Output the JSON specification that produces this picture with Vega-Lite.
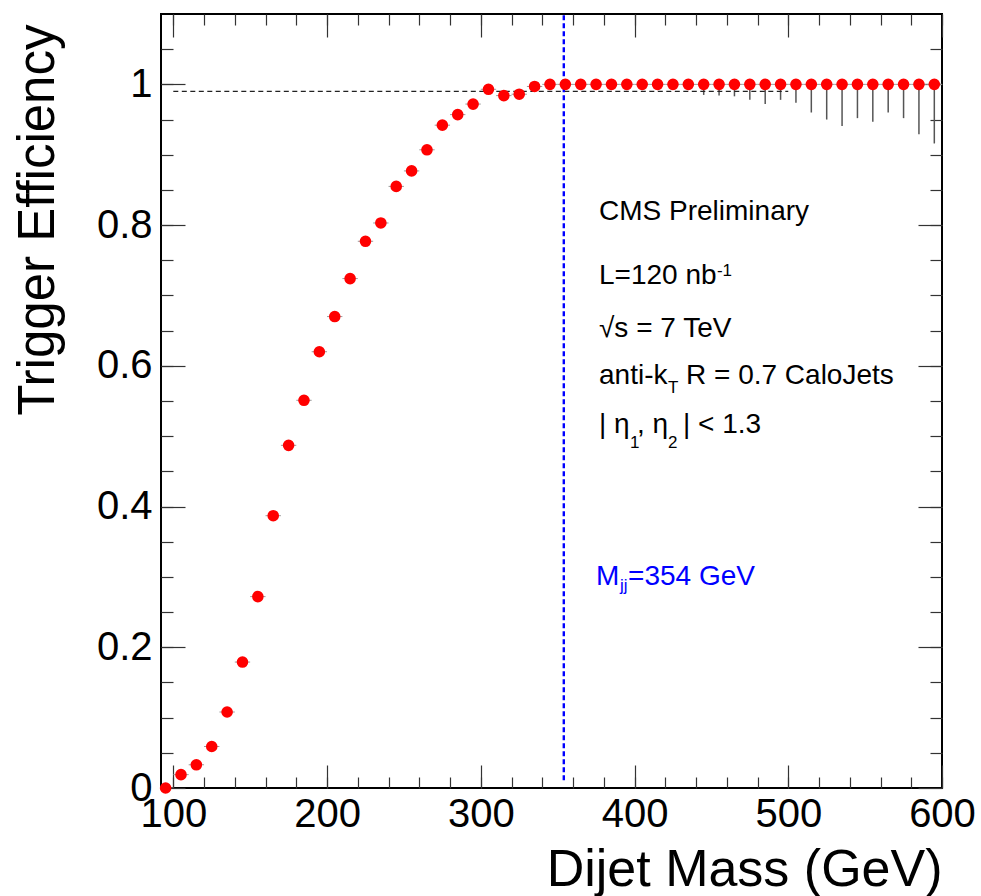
{
  "$schema": "https://vega.github.io/schema/vega-lite/v6.json",
  "width": 781,
  "height": 774,
  "autosize": {"type": "none"},
  "padding": {"left": 161, "top": 14, "right": 39, "bottom": 108},
  "background": "white",
  "config": {
    "font": "Liberation Sans",
    "view": {"stroke": "black", "strokeWidth": 2},
    "axis": {
      "grid": false,
      "domain": false,
      "tickColor": "#333333",
      "tickWidth": 1.2,
      "labelFont": "Liberation Sans",
      "titleFont": "Liberation Sans",
      "labelColor": "black",
      "titleColor": "black",
      "titleFontWeight": "normal"
    }
  },
  "datasets": {
    "pts": [
      {"m": 95, "m0": 90, "m1": 100, "eff": 0.0, "effLo": 0.0},
      {"m": 105, "m0": 100, "m1": 110, "eff": 0.019, "effLo": 0.019},
      {"m": 115, "m0": 110, "m1": 120, "eff": 0.033, "effLo": 0.033},
      {"m": 125, "m0": 120, "m1": 130, "eff": 0.059, "effLo": 0.059},
      {"m": 135, "m0": 130, "m1": 140, "eff": 0.108, "effLo": 0.108},
      {"m": 145, "m0": 140, "m1": 150, "eff": 0.179, "effLo": 0.179},
      {"m": 155, "m0": 150, "m1": 160, "eff": 0.272, "effLo": 0.272},
      {"m": 165, "m0": 160, "m1": 170, "eff": 0.387, "effLo": 0.387},
      {"m": 175, "m0": 170, "m1": 180, "eff": 0.487, "effLo": 0.487},
      {"m": 185, "m0": 180, "m1": 190, "eff": 0.551, "effLo": 0.551},
      {"m": 195, "m0": 190, "m1": 200, "eff": 0.62, "effLo": 0.62},
      {"m": 205, "m0": 200, "m1": 210, "eff": 0.67, "effLo": 0.67},
      {"m": 215, "m0": 210, "m1": 220, "eff": 0.724, "effLo": 0.724},
      {"m": 225, "m0": 220, "m1": 230, "eff": 0.777, "effLo": 0.777},
      {"m": 235, "m0": 230, "m1": 240, "eff": 0.803, "effLo": 0.803},
      {"m": 245, "m0": 240, "m1": 250, "eff": 0.855, "effLo": 0.855},
      {"m": 255, "m0": 250, "m1": 260, "eff": 0.877, "effLo": 0.877},
      {"m": 265, "m0": 260, "m1": 270, "eff": 0.907, "effLo": 0.907},
      {"m": 275, "m0": 270, "m1": 280, "eff": 0.942, "effLo": 0.942},
      {"m": 285, "m0": 280, "m1": 290, "eff": 0.957, "effLo": 0.957},
      {"m": 295, "m0": 290, "m1": 300, "eff": 0.972, "effLo": 0.972},
      {"m": 305, "m0": 300, "m1": 310, "eff": 0.993, "effLo": 0.993},
      {"m": 315, "m0": 310, "m1": 320, "eff": 0.984, "effLo": 0.984},
      {"m": 325, "m0": 320, "m1": 330, "eff": 0.986, "effLo": 0.986},
      {"m": 335, "m0": 330, "m1": 340, "eff": 0.997, "effLo": 0.997},
      {"m": 345, "m0": 340, "m1": 350, "eff": 1.0, "effLo": 1.0},
      {"m": 355, "m0": 350, "m1": 360, "eff": 1.0, "effLo": 1.0},
      {"m": 365, "m0": 360, "m1": 370, "eff": 1.0, "effLo": 1.0},
      {"m": 375, "m0": 370, "m1": 380, "eff": 1.0, "effLo": 1.0},
      {"m": 385, "m0": 380, "m1": 390, "eff": 1.0, "effLo": 1.0},
      {"m": 395, "m0": 390, "m1": 400, "eff": 1.0, "effLo": 1.0},
      {"m": 405, "m0": 400, "m1": 410, "eff": 1.0, "effLo": 1.0},
      {"m": 415, "m0": 410, "m1": 420, "eff": 1.0, "effLo": 1.0},
      {"m": 425, "m0": 420, "m1": 430, "eff": 1.0, "effLo": 1.0},
      {"m": 435, "m0": 430, "m1": 440, "eff": 1.0, "effLo": 1.0},
      {"m": 445, "m0": 440, "m1": 450, "eff": 1.0, "effLo": 0.985},
      {"m": 455, "m0": 450, "m1": 460, "eff": 1.0, "effLo": 0.984},
      {"m": 465, "m0": 460, "m1": 470, "eff": 1.0, "effLo": 0.983},
      {"m": 475, "m0": 470, "m1": 480, "eff": 1.0, "effLo": 0.978},
      {"m": 485, "m0": 480, "m1": 490, "eff": 1.0, "effLo": 0.972},
      {"m": 495, "m0": 490, "m1": 500, "eff": 1.0, "effLo": 0.978},
      {"m": 505, "m0": 500, "m1": 510, "eff": 1.0, "effLo": 0.974},
      {"m": 515, "m0": 510, "m1": 520, "eff": 1.0, "effLo": 0.96},
      {"m": 525, "m0": 520, "m1": 530, "eff": 1.0, "effLo": 0.95},
      {"m": 535, "m0": 530, "m1": 540, "eff": 1.0, "effLo": 0.941},
      {"m": 545, "m0": 540, "m1": 550, "eff": 1.0, "effLo": 0.952},
      {"m": 555, "m0": 550, "m1": 560, "eff": 1.0, "effLo": 0.947},
      {"m": 565, "m0": 560, "m1": 570, "eff": 1.0, "effLo": 0.96},
      {"m": 575, "m0": 570, "m1": 580, "eff": 1.0, "effLo": 0.952},
      {"m": 585, "m0": 580, "m1": 590, "eff": 1.0, "effLo": 0.929},
      {"m": 595, "m0": 590, "m1": 600, "eff": 1.0, "effLo": 0.916}
    ],
    "plateau": [{"from": 100, "to": 500, "level": 0.99}],
    "threshold": [{"mjj": 354, "lo": 0.011, "hi": 1.1}],
    "legendText": [
      {"tx": 376.9, "ty": 0.807, "label": "CMS Preliminary"},
      {"tx": 376.9, "ty": 0.716, "label": "L=120 nb"},
      {"tx": 376.9, "ty": 0.641, "label": "√s = 7 TeV"},
      {"tx": 376.9, "ty": 0.574, "label": "anti-k"},
      {"tx": 433.5, "ty": 0.574, "label": "R = 0.7 CaloJets"},
      {"tx": 376.9, "ty": 0.5045, "label": "| η"},
      {"tx": 401.6, "ty": 0.5045, "label": ", η"},
      {"tx": 431.5, "ty": 0.5045, "label": "| < 1.3"}
    ],
    "legendScript": [
      {"tx": 453.6, "ty": 0.727, "label": "-1"},
      {"tx": 421.8, "ty": 0.5614, "label": "T"},
      {"tx": 397.1, "ty": 0.4832, "label": "1"},
      {"tx": 421.8, "ty": 0.4832, "label": "2"}
    ],
    "mjjText": [
      {"tx": 375.0, "ty": 0.2885, "label": "M"},
      {"tx": 395.8, "ty": 0.2885, "label": "=354 GeV"}
    ],
    "mjjScript": [
      {"tx": 390.6, "ty": 0.28, "label": "jj"}
    ]
  },
  "resolve": {"axis": {"x": "independent", "y": "independent"}},
  "layer": [
    {
      "data": {"name": "pts"},
      "mark": {"type": "rule", "color": "#9a9a9a", "strokeWidth": 1, "clip": true},
      "encoding": {
        "x": {
          "field": "m0", "type": "quantitative",
          "scale": {"domain": [92, 600], "nice": false, "zero": false},
          "axis": {"orient": "bottom", "values": [100,120,140,160,180,200,220,240,260,280,300,320,340,360,380,400,420,440,460,480,500,520,540,560,580,600], "tickSize": -11, "labels": false, "title": null}
        },
        "x2": {"field": "m1"},
        "y": {
          "field": "eff", "type": "quantitative",
          "scale": {"domain": [0, 1.1], "nice": false, "zero": false},
          "axis": {"orient": "left", "values": [0.05,0.1,0.15,0.2,0.25,0.3,0.35,0.4,0.45,0.5,0.55,0.6,0.65,0.7,0.75,0.8,0.85,0.9,0.95,1.0,1.05], "tickSize": -12, "labels": false, "title": null}
        }
      }
    },
    {
      "data": {"name": "pts"},
      "mark": {"type": "rule", "color": "#555555", "strokeWidth": 1.5},
      "encoding": {
        "x": {
          "field": "m", "type": "quantitative",
          "scale": {"domain": [92, 600], "nice": false, "zero": false},
          "axis": {"orient": "top", "values": [100,120,140,160,180,200,220,240,260,280,300,320,340,360,380,400,420,440,460,480,500,520,540,560,580,600], "tickSize": -11, "labels": false, "title": null}
        },
        "y": {
          "field": "eff", "type": "quantitative",
          "scale": {"domain": [0, 1.1], "nice": false, "zero": false},
          "axis": {"orient": "right", "values": [0.05,0.1,0.15,0.2,0.25,0.3,0.35,0.4,0.45,0.5,0.55,0.6,0.65,0.7,0.75,0.8,0.85,0.9,0.95,1.0,1.05], "tickSize": -12, "labels": false, "title": null}
        },
        "y2": {"field": "effLo"}
      }
    },
    {
      "data": {"name": "plateau"},
      "mark": {"type": "rule", "color": "#222222", "strokeWidth": 1.3, "strokeDash": [5, 3.5]},
      "encoding": {
        "x": {
          "field": "from", "type": "quantitative",
          "scale": {"domain": [92, 600], "nice": false, "zero": false},
          "axis": {"orient": "top", "values": [100,200,300,400,500,600], "tickSize": -23, "labels": false, "title": null}
        },
        "x2": {"field": "to"},
        "y": {
          "field": "level", "type": "quantitative",
          "scale": {"domain": [0, 1.1], "nice": false, "zero": false},
          "axis": {"orient": "right", "values": [0,0.2,0.4,0.6,0.8,1.0], "tickSize": -24, "labels": false, "title": null}
        }
      }
    },
    {
      "data": {"name": "threshold"},
      "mark": {"type": "rule", "color": "#0000ff", "strokeWidth": 2.4, "strokeDash": [5, 3]},
      "encoding": {
        "x": {
          "field": "mjj", "type": "quantitative",
          "scale": {"domain": [92, 600], "nice": false, "zero": false},
          "axis": {"orient": "bottom", "values": [100,200,300,400,500,600], "tickSize": -23, "labels": false, "title": null}
        },
        "y": {
          "field": "lo", "type": "quantitative",
          "scale": {"domain": [0, 1.1], "nice": false, "zero": false},
          "axis": {"orient": "left", "values": [0,0.2,0.4,0.6,0.8,1.0], "tickSize": -24, "labels": false, "title": null}
        },
        "y2": {"field": "hi"}
      }
    },
    {
      "data": {"name": "pts"},
      "mark": {"type": "circle", "color": "#ff0000", "opacity": 1, "size": 135},
      "encoding": {
        "x": {
          "field": "m", "type": "quantitative",
          "scale": {"domain": [92, 600], "nice": false, "zero": false},
          "axis": {
            "orient": "bottom", "values": [100,200,300,400,500,600], "format": "d",
            "ticks": false, "labelFontSize": 40, "labelPadding": 6, "labelFlush": false, "labelOverlap": false,
            "title": "Dijet Mass (GeV)", "titleFontSize": 52, "titleAnchor": "end", "titleAlign": "right",
            "titleX": 781, "titleY": 97, "titleBaseline": "alphabetic"
          }
        },
        "y": {
          "field": "eff", "type": "quantitative",
          "scale": {"domain": [0, 1.1], "nice": false, "zero": false},
          "axis": {
            "orient": "left", "values": [0,0.2,0.4,0.6,0.8,1.0], "format": "~g",
            "ticks": false, "labelFontSize": 40, "labelPadding": 9, "labelFlush": false, "labelOverlap": false,
            "title": "Trigger Efficiency", "titleFontSize": 51, "titleAngle": -90, "titleAnchor": "end", "titleAlign": "right",
            "titleX": -108, "titleY": 10, "titleBaseline": "alphabetic"
          }
        }
      }
    },
    {
      "data": {"name": "legendText"},
      "mark": {"type": "text", "align": "left", "baseline": "alphabetic", "fontSize": 28, "color": "black"},
      "encoding": {
        "x": {"field": "tx", "type": "quantitative", "axis": null},
        "y": {"field": "ty", "type": "quantitative", "axis": null},
        "text": {"field": "label"}
      }
    },
    {
      "data": {"name": "legendScript"},
      "mark": {"type": "text", "align": "left", "baseline": "alphabetic", "fontSize": 17, "color": "black"},
      "encoding": {
        "x": {"field": "tx", "type": "quantitative", "axis": null},
        "y": {"field": "ty", "type": "quantitative", "axis": null},
        "text": {"field": "label"}
      }
    },
    {
      "data": {"name": "mjjText"},
      "mark": {"type": "text", "align": "left", "baseline": "alphabetic", "fontSize": 28, "color": "#0000ff"},
      "encoding": {
        "x": {"field": "tx", "type": "quantitative", "axis": null},
        "y": {"field": "ty", "type": "quantitative", "axis": null},
        "text": {"field": "label"}
      }
    },
    {
      "data": {"name": "mjjScript"},
      "mark": {"type": "text", "align": "left", "baseline": "alphabetic", "fontSize": 17, "color": "#0000ff"},
      "encoding": {
        "x": {"field": "tx", "type": "quantitative", "axis": null},
        "y": {"field": "ty", "type": "quantitative", "axis": null},
        "text": {"field": "label"}
      }
    }
  ]
}
